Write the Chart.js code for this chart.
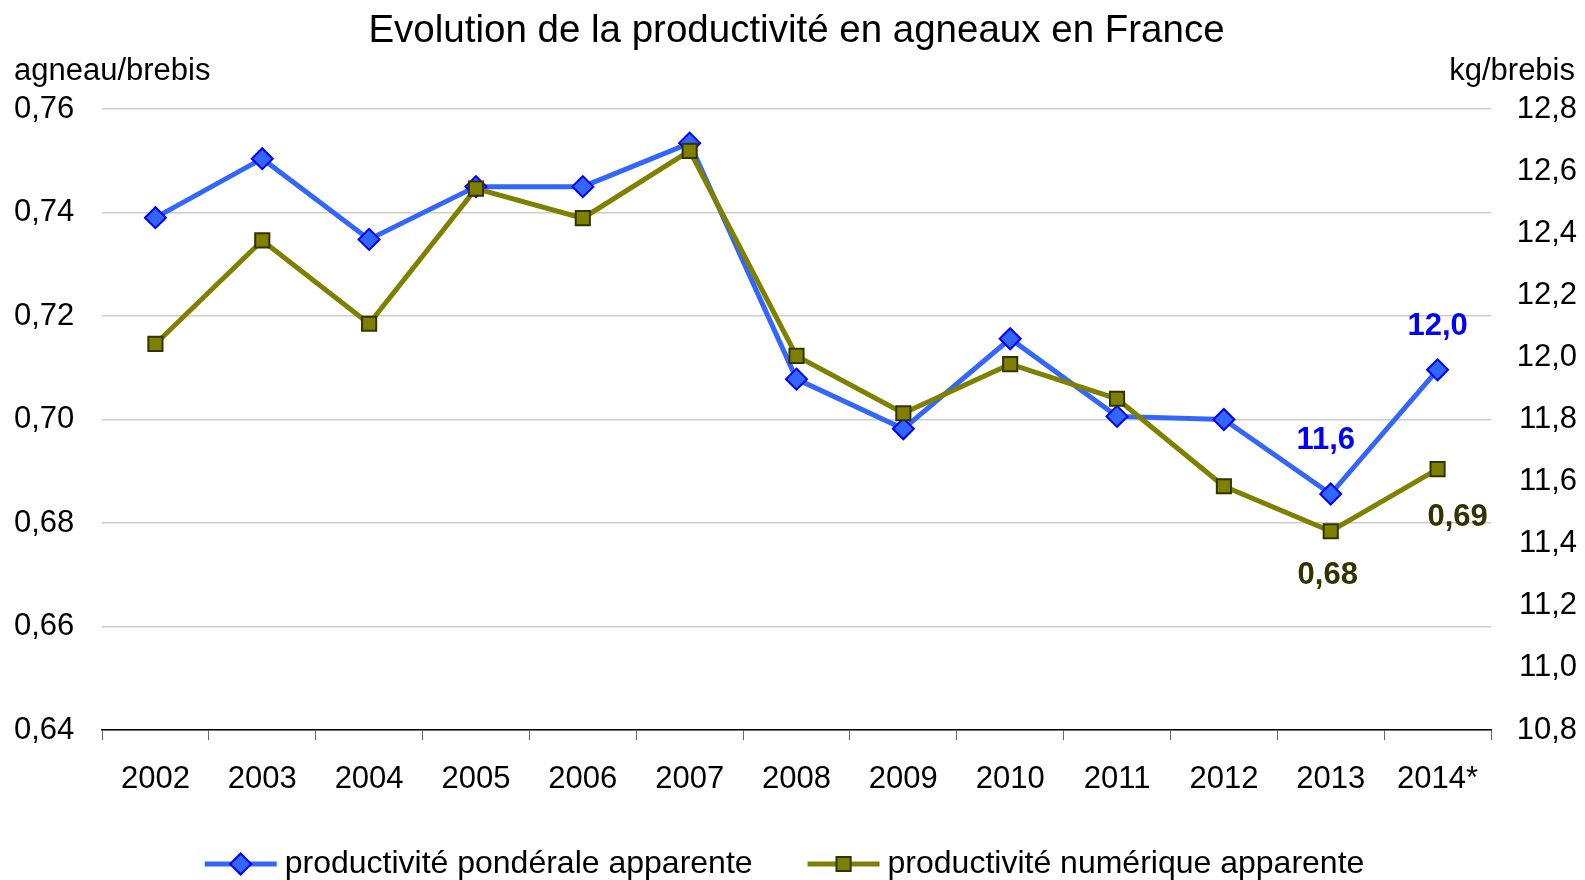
<!DOCTYPE html>
<html>
<head>
<meta charset="utf-8">
<script src="https://cdn.jsdelivr.net/npm/chart.js@4"></script>
<style>
  html, body { margin: 0; padding: 0; background: #fff; }
  #wrap { width: 1585px; height: 880px; }
</style>
</head>
<body>
<div id="wrap"><canvas id="chart" width="1585" height="880"></canvas></div>
<script>
// values
const years = ["2002", "2003", "2004", "2005", "2006", "2007", "2008", "2009", "2010", "2011", "2012", "2013", "2014*"];
const ponderale = [12.45, 12.64, 12.38, 12.55, 12.55, 12.69, 11.93, 11.77, 12.06, 11.81, 11.80, 11.56, 11.96]; // kg/brebis
const numerique = [0.7146, 0.7346, 0.7185, 0.7446, 0.7389, 0.7519, 0.7123, 0.7012, 0.7107, 0.7040, 0.6871, 0.6784, 0.6904]; // agneau/brebis
const leftTicks = { min: 0.64, max: 0.76, step: 0.02 };
const rightTicks = { min: 10.8, max: 12.8, step: 0.2 };
const labelledIdx = [11, 12];

const FONT = "'Liberation Sans', Arial, sans-serif";
const comma = (v, d) => v.toFixed(d).replace(".", ",");

// offsets of the value labels from their points
const labelOffsets = {
  pond: { 11: [-5, -54], 12: [0, -43] },
  num: { 11: [-3, 44], 12: [20, 48] },
};

const extras = {
  id: "extras",
  afterDatasetsDraw(chart) {
    const ctx = chart.ctx;
    ctx.save();
    ctx.font = "bold 31px " + FONT;
    ctx.textAlign = "center";
    ctx.textBaseline = "middle";
    chart.data.datasets.forEach((ds, di) => {
      const meta = chart.getDatasetMeta(di);
      labelledIdx.forEach((i) => {
        const pt = meta.data[i];
        const off = labelOffsets[ds.key][i];
        ctx.fillStyle = ds.labelColor;
        ctx.fillText(comma(ds.data[i], ds.decimals), pt.x + off[0], pt.y + off[1]);
      });
    });
    ctx.restore();
  },
  afterDraw(chart) {
    const ctx = chart.ctx;
    const area = chart.chartArea;
    ctx.save();
    ctx.fillStyle = "#000";
    ctx.textBaseline = "middle";
    ctx.font = "38.5px " + FONT;
    ctx.textAlign = "center";
    ctx.fillText("Evolution de la productivité en agneaux en France", (area.left + area.right) / 2, 31);
    ctx.font = "31px " + FONT;
    ctx.textAlign = "left";
    ctx.fillText("agneau/brebis", 14, 71);
    ctx.textAlign = "right";
    ctx.fillText("kg/brebis", 1575, 71);

    // legend: line + marker, then text
    ctx.font = "32px " + FONT;
    const lineLen = 72, gapText = 8, gapItem = 55;
    const items = chart.data.datasets.map((ds) => ({ ds, w: lineLen + gapText + ctx.measureText(ds.label).width }));
    const total = items.reduce((s, it) => s + it.w, 0) + gapItem * (items.length - 1);
    let x = chart.width / 2 - 8 - total / 2;
    const y = 864;
    items.forEach((it) => {
      const ds = it.ds;
      ctx.strokeStyle = ds.borderColor;
      ctx.lineWidth = ds.borderWidth;
      ctx.beginPath();
      ctx.moveTo(x, y);
      ctx.lineTo(x + lineLen, y);
      ctx.stroke();
      ctx.fillStyle = ds.pointBackgroundColor;
      ctx.strokeStyle = ds.pointBorderColor;
      ctx.lineWidth = ds.pointBorderWidth;
      Chart.helpers.drawPoint(ctx, { pointStyle: ds.pointStyle, radius: ds.pointRadius, borderWidth: ds.pointBorderWidth }, x + lineLen / 2, y);
      ctx.fillStyle = "#000";
      ctx.textAlign = "left";
      ctx.fillText(ds.label, x + lineLen + gapText, y);
      x += it.w + gapItem;
    });
    ctx.restore();
  },
};

new Chart(document.getElementById("chart"), {
  type: "line",
  data: {
    labels: years,
    datasets: [
      {
        key: "pond",
        label: "productivité pondérale apparente",
        data: ponderale,
        yAxisID: "yR",
        decimals: 1,
        labelColor: "#0000FF",
        borderColor: "#3366FF",
        borderWidth: 5,
        pointStyle: "rectRot",
        pointRadius: 10.5,
        pointBackgroundColor: "#3366FF",
        pointBorderColor: "#0000FF",
        pointBorderWidth: 2,
        tension: 0,
        order: 2,
      },
      {
        key: "num",
        label: "productivité numérique apparente",
        data: numerique,
        yAxisID: "yL",
        decimals: 2,
        labelColor: "#333300",
        borderColor: "#808000",
        borderWidth: 5,
        pointStyle: "rect",
        pointRadius: 10,
        pointBackgroundColor: "#808000",
        pointBorderColor: "#333300",
        pointBorderWidth: 2,
        tension: 0,
        order: 1,
      },
    ],
  },
  options: {
    responsive: false,
    animation: false,
    layout: { padding: { top: 109, left: 14, right: 8, bottom: 80 } },
    plugins: { legend: { display: false }, title: { display: false }, tooltip: { enabled: false } },
    scales: {
      x: {
        offset: true,
        grid: { offset: true, drawOnChartArea: false, drawTicks: true, tickLength: 10, color: "#666" },
        border: { display: true, color: "#000", width: 1.5 },
        ticks: { font: { family: FONT, size: 31 }, color: "#000", padding: 21, maxRotation: 0 },
        afterFit: (s) => { s.height = 70; },
      },
      yL: {
        position: "left",
        min: leftTicks.min,
        max: leftTicks.max,
        grid: { color: "#cccccc", lineWidth: 1.5, drawTicks: false },
        border: { display: false },
        ticks: {
          stepSize: leftTicks.step,
          crossAlign: "far",
          font: { family: FONT, size: 31 },
          color: "#000",
          callback: (v) => comma(v, 2),
        },
        afterFit: (s) => { s.width = 88; },
      },
      yR: {
        position: "right",
        min: rightTicks.min,
        max: rightTicks.max,
        grid: { drawOnChartArea: false, drawTicks: false },
        border: { display: false },
        ticks: {
          stepSize: rightTicks.step,
          crossAlign: "far",
          font: { family: FONT, size: 31 },
          color: "#000",
          callback: (v) => comma(v, 1),
        },
        afterFit: (s) => { s.width = 86; },
      },
    },
  },
  plugins: [extras],
});
</script>
</body>
</html>
